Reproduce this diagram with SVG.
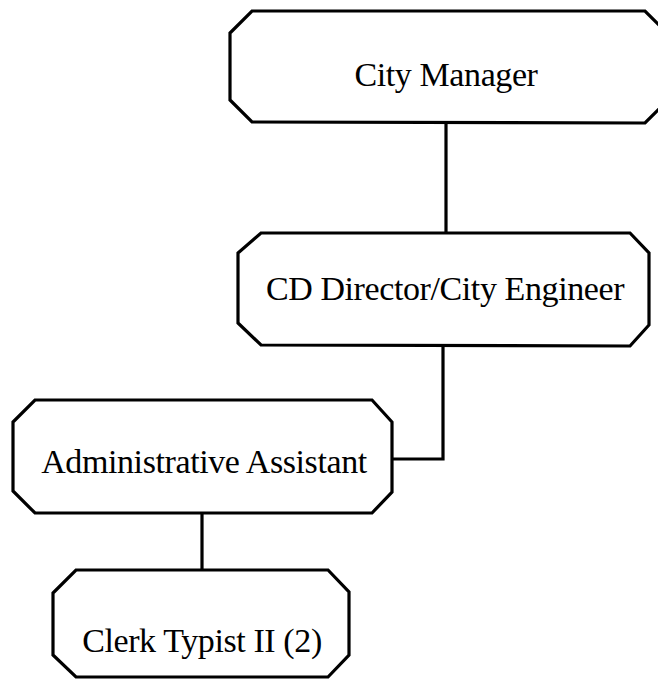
<svg xmlns="http://www.w3.org/2000/svg" width="658" height="679" viewBox="0 0 658 679">
<style>
.box{fill:#fff;stroke:#000;stroke-width:3.2;stroke-linejoin:miter}
.lbl{font-family:"Liberation Serif","Times New Roman",serif;font-size:34px;fill:#000;text-anchor:middle;letter-spacing:-0.4px}
.conn{fill:none;stroke:#000;stroke-width:3.2}
</style>
<rect width="658" height="679" fill="#fff"/>
<g id="connectors">
<path class="conn" d="M446 122 V233"/>
<path class="conn" d="M443 345 V459 H392"/>
<path class="conn" d="M202 513 V569"/>
</g>
<g id="city-manager">
<polygon class="box" points="252,11 645,11 667,33 667,101 645,123 252,122 230,100 230,33"/>
<text class="lbl" x="446" y="86">City Manager</text>
</g>
<g id="cd-director">
<polygon class="box" points="261,233 630,233 649,253 649,325 630,346 261,345 238,323 238,253"/>
<text class="lbl" x="445" y="300">CD Director/City Engineer</text>
</g>
<g id="admin-assistant">
<polygon class="box" points="35,400 372,400 392,422 392,492 372,513 35,513 13,491 13,422"/>
<text class="lbl" x="204" y="473">Administrative Assistant</text>
</g>
<g id="clerk-typist">
<polygon class="box" points="76,570 328,570 349,592 349,655 328,677 76,677 53,655 53,593"/>
<text class="lbl" x="202" y="652">Clerk Typist II (2)</text>
</g>
</svg>
